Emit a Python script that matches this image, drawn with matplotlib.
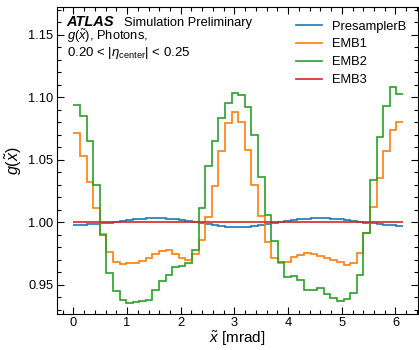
import numpy as np
import matplotlib
matplotlib.use('Agg')
import matplotlib.pyplot as plt
from matplotlib.ticker import MultipleLocator

plt.rcParams['font.family'] = ['Liberation Sans', 'DejaVu Sans']
plt.rcParams['mathtext.fontset'] = 'custom'
plt.rcParams['mathtext.rm'] = 'Liberation Sans'
plt.rcParams['mathtext.it'] = 'Liberation Sans:italic'
plt.rcParams['mathtext.bf'] = 'Liberation Sans:bold'

# bin edges in mrad (50 bins)
edges = np.linspace(0, 6.14, 51)

presampler = [0.9974, 0.9977, 0.9981, 0.9986, 0.9991, 0.9996, 1.0001, 1.0010, 1.0017, 1.0023,
              1.0028, 1.0031, 1.0032, 1.0031, 1.0028, 1.0023, 1.0016, 1.0008, 1.0000, 0.9992,
              0.9983, 0.9975, 0.9968, 0.9962, 0.9958, 0.9957, 0.9960, 0.9966, 0.9974, 0.9983,
              0.9993, 1.0002, 1.0010, 1.0017, 1.0023, 1.0028, 1.0031, 1.0032, 1.0031, 1.0028,
              1.0024, 1.0018, 1.0011, 1.0004, 0.9996, 0.9989, 0.9983, 0.9978, 0.9974, 0.9971]

emb1 = [1.0715, 1.0530, 1.0317, 1.0110, 0.9904, 0.9760, 0.9680, 0.9664, 0.9670, 0.9675,
        0.9690, 0.9715, 0.9744, 0.9766, 0.9774, 0.9744, 0.9710, 0.9700, 0.9744, 0.9856,
        1.0037, 1.0290, 1.0570, 1.0790, 1.0880, 1.0800, 1.0580, 1.0300, 1.0045, 0.9840,
        0.9710, 0.9675, 0.9680, 0.9717, 0.9740, 0.9754, 0.9744, 0.9728, 0.9714, 0.9700,
        0.9680, 0.9660, 0.9675, 0.9750, 0.9910, 1.0120, 1.0350, 1.0570, 1.0740, 1.0797]

emb2 = [1.0940, 1.0850, 1.0650, 1.0300, 0.9900, 0.9590, 0.9450, 0.9376, 0.9350, 0.9360,
        0.9370, 0.9380, 0.9460, 0.9530, 0.9580, 0.9640, 0.9650, 0.9670, 0.9780, 1.0110,
        1.0450, 1.0650, 1.0835, 1.0950, 1.1030, 1.1020, 1.0920, 1.0696, 1.0360, 1.0056,
        0.9850, 0.9680, 0.9557, 0.9568, 0.9536, 0.9460, 0.9460, 0.9472, 0.9424, 0.9390,
        0.9370, 0.9387, 0.9430, 0.9576, 0.9915, 1.0340, 1.0680, 1.0930, 1.1077, 1.1024]

emb3 = [1.0001, 1.0001, 1.0001, 1.0001, 1.0000, 1.0000, 1.0000, 1.0000, 1.0000, 1.0000,
        1.0000, 1.0000, 1.0000, 1.0000, 1.0000, 1.0000, 1.0000, 1.0000, 1.0000, 1.0000,
        1.0000, 0.9999, 0.9999, 0.9999, 0.9999, 0.9999, 0.9999, 0.9999, 1.0000, 1.0000,
        1.0000, 1.0000, 1.0000, 1.0000, 1.0000, 1.0000, 1.0000, 1.0000, 1.0000, 1.0000,
        1.0000, 1.0000, 1.0000, 1.0000, 1.0000, 1.0000, 1.0000, 1.0000, 1.0000, 1.0000]

series = [('PresamplerB', presampler), ('EMB1', emb1), ('EMB2', emb2), ('EMB3', emb3)]

fig = plt.figure(figsize=(4.19, 3.5), dpi=100)
ax = fig.add_axes([57/419, 36/350, 361/419, 307/350])

for name, vals in series:
    ax.stairs(vals, edges, label=name, linewidth=1.2, baseline=None)

ax.set_xlim(-0.305, 6.42)
ax.set_ylim(0.9265, 1.172)

ax.xaxis.set_major_locator(MultipleLocator(1))
ax.xaxis.set_minor_locator(MultipleLocator(0.2))
ax.yaxis.set_major_locator(MultipleLocator(0.05))
ax.yaxis.set_minor_locator(MultipleLocator(0.01))
ax.tick_params(which='both', direction='in', top=True, right=True, labelsize=9.3, pad=2.5)
ax.tick_params(which='major', length=5, width=0.8)
ax.tick_params(which='minor', length=2.6, width=0.8)

ax.set_xlabel(r'$\tilde{x}$ [mrad]', fontsize=11, labelpad=0)
ax.set_ylabel(r'$g(\tilde{x})$', fontsize=11.5, labelpad=3)

ax.text(0.027, 0.938, 'ATLAS', transform=ax.transAxes, fontsize=10.5,
        fontweight='bold', fontstyle='italic', va='baseline')
ax.text(0.186, 0.938, 'Simulation Preliminary', transform=ax.transAxes,
        fontsize=9.3, va='baseline')
ax.text(0.027, 0.8925, r'$g(\tilde{x})$, Photons,', transform=ax.transAxes,
        fontsize=9.3, va='baseline')
ax.text(0.027, 0.8404, r'0.20 < |$\eta_{\mathrm{center}}$| < 0.25', transform=ax.transAxes,
        fontsize=9.5, va='baseline')

ax.legend(loc='upper right', frameon=False, fontsize=9.3, handlelength=2.0,
          handletextpad=0.8, labelspacing=0.45, bbox_to_anchor=(1.0, 0.994))

fig.savefig('out.png', dpi=100)
